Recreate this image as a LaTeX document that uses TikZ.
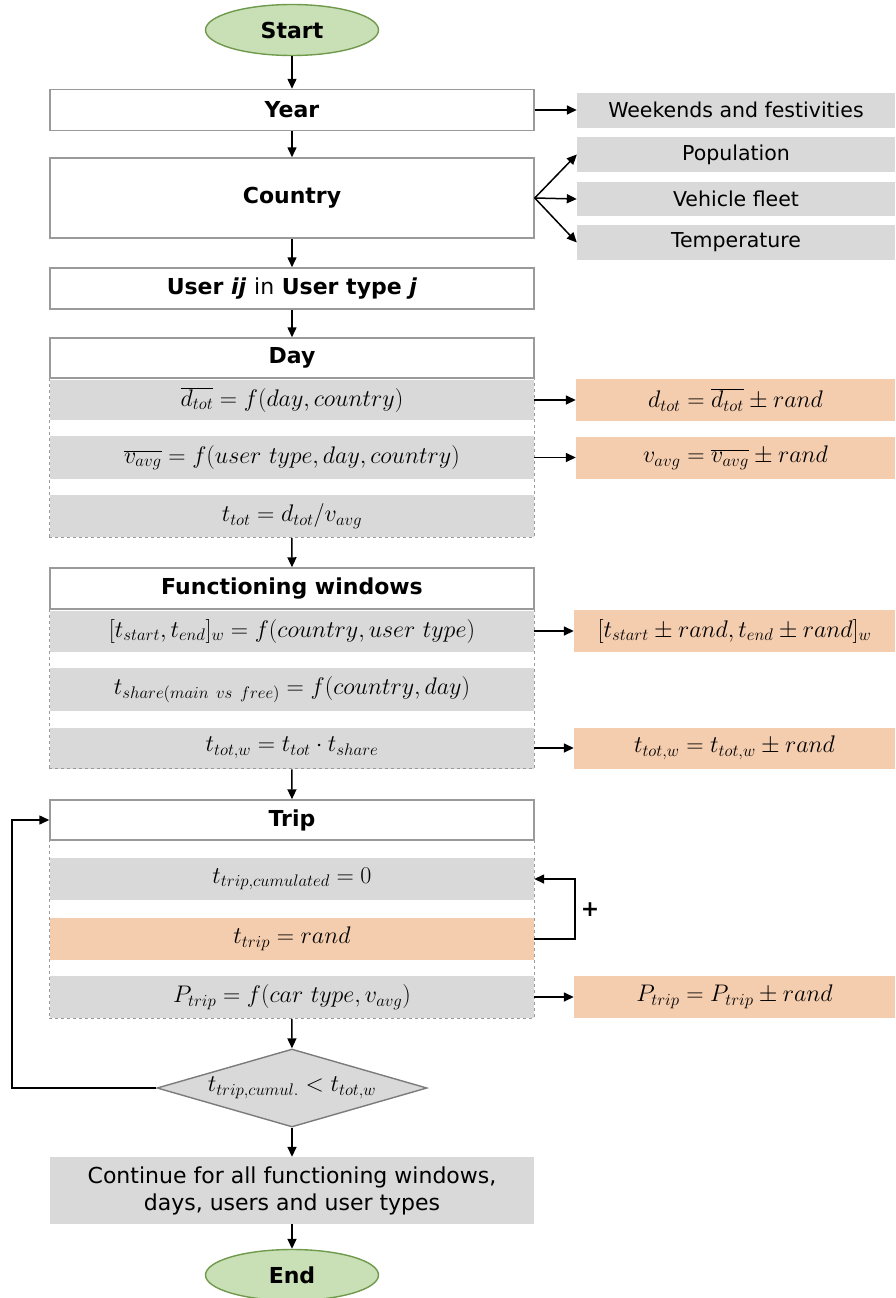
\RequirePackage{fix-cm}
\documentclass[tikz,border=0pt]{standalone}
\usepackage{fontspec}
\setmainfont{DejaVu Sans}
\usetikzlibrary{shapes.geometric,arrows.meta,fit}
\definecolor{rowgray}{HTML}{D9D9D9}
\definecolor{randorange}{HTML}{F4CCAE}
\definecolor{termgreen}{HTML}{C9DFB6}
\definecolor{termline}{HTML}{6F9A4C}
\definecolor{boxline}{HTML}{9A9A9A}

\begin{document}
\begin{tikzpicture}[x=1pt,y=-1pt,font=\fontsize{20.5}{27}\selectfont,
	>={Triangle[length=10pt,width=9pt]},
	term/.style={ellipse,draw=termline,fill=termgreen,line width=1.4pt,minimum width=173pt,minimum height=51pt,inner sep=0pt,font=\fontsize{22}{26}\selectfont\bfseries},
	hdr/.style={draw=boxline,line width=1.5pt,fill=white,minimum width=484pt,inner sep=0pt,font=\fontsize{22}{26}\selectfont\bfseries},
	row/.style={fill=rowgray,minimum width=484pt,inner sep=0pt},
	eq/.style={font=\fontsize{24}{28}\selectfont},
	rnd/.style={fill=randorange,inner sep=0pt,eq},
	side/.style={fill=rowgray,minimum width=318pt,minimum height=35pt,inner sep=0pt},
	grp/.style={draw=boxline,dashed,line width=1.1pt,inner sep=0pt},
	link/.style={->,line width=1.5pt}]
	\useasboundingbox (0,0) rectangle (895,1298);
	% main column
	\node[term] (start) at (292,30) {Start};
	\node[hdr,minimum height=41pt] (year) at (292,110) {Year};
	\node[hdr,minimum height=80pt] (country) at (292,198) {Country};
	\node[hdr,minimum height=41pt] (user) at (292,288.5) {User \textit{ij} \textmd{in} User type \textit{j}};
	% day
	\node[hdr,minimum height=40pt] (day) at (292,358) {Day};
	\node[row,eq,minimum height=40pt] (d1) at (292,400) {$\overline{d_{tot}}=f(day,country)$};
	\node[row,eq,minimum height=43pt] (d2) at (292,457.5) {$\overline{v_{avg}}=f(user\ type,day,country)$};
	\node[row,eq,minimum height=42pt] (d3) at (292,516) {$t_{tot}=d_{tot}/v_{avg}$};
	\node[grp,fit=(day.south west)(d3.south east)] (dayC) {};
	% functioning windows
	\node[hdr,minimum height=41pt] (fw) at (292,588.5) {Functioning windows};
	\node[row,eq,minimum height=41pt] (f1) at (292,631) {$[t_{start},t_{end}]_w=f(country,user\ type)$};
	\node[row,eq,minimum height=43pt] (f2) at (292,689.5) {$t_{share(main\ vs\ free)}=f(country,day)$};
	\node[row,eq,minimum height=41pt] (f3) at (292,748) {$t_{tot,w}=t_{tot}\cdot t_{share}$};
	\node[grp,fit=(fw.south west)(f3.south east)] (fwC) {};
	% trip
	\node[hdr,minimum height=40pt] (trip) at (292,820) {Trip};
	\node[row,eq,minimum height=42pt] (t1) at (292,879) {$t_{trip,cumulated}=0$};
	\node[rnd,minimum width=484pt,minimum height=42pt] (t2) at (292,939) {$t_{trip}=rand$};
	\node[row,eq,minimum height=42pt] (t3) at (292,997) {$P_{trip}=f(car\ type,v_{avg})$};
	\node[grp,fit=(trip.south west)(t3.south east)] (tripC) {};
	\node[diamond,eq,draw=boxline!80!black,fill=rowgray,line width=1.4pt,shape aspect=3.46,minimum width=270pt,minimum height=78pt,inner sep=0pt] (cond) at (292,1088) {$t_{trip,cumul.}<t_{tot,w}$};
	\node[row,minimum height=67pt,align=center,font=\fontsize{22}{27}\selectfont] (cont) at (292,1190.5) {Continue for all functioning windows,\\days, users and user types};
	\node[term] (end) at (292,1275) {End};
	% side boxes
	\node[side] (wk) at (736,110) {Weekends and festivities};
	\node[side] (pop) at (736,154.5) {Population};
	\node[side,minimum height=34pt] (veh) at (736,199) {Vehicle fleet};
	\node[side] (tmp) at (736,242.5) {Temperature};
	\node[rnd,minimum width=319pt,minimum height=42pt] (od) at (735.5,400) {$d_{tot}=\overline{d_{tot}}\pm rand$};
	\node[rnd,minimum width=319pt,minimum height=42pt] (ov) at (735.5,457.5) {$v_{avg}=\overline{v_{avg}}\pm rand$};
	\node[rnd,minimum width=321pt,minimum height=42pt] (ow) at (734.5,631) {$[t_{start}\pm rand,t_{end}\pm rand]_w$};
	\node[rnd,minimum width=321pt,minimum height=41pt] (ot) at (734.5,748) {$t_{tot,w}=t_{tot,w}\pm rand$};
	\node[rnd,minimum width=321pt,minimum height=42pt] (op) at (734.5,997) {$P_{trip}=P_{trip}\pm rand$};
	% connectors
	\draw[link] (start)--(year);
	\draw[link] (year)--(country);
	\draw[link] (country)--(user);
	\draw[link] (user)--(day);
	\draw[link] (dayC)--(fw);
	\draw[link] (fwC)--(trip);
	\draw[link] (tripC)--(cond);
	\draw[link] (cond)--(cont);
	\draw[link] (cont)--(end);
	\draw[link] (year.east)--(wk.west);
	\foreach \s in {pop,veh,tmp}{\draw[link] (country.east)--(\s.west);}
	\draw[link] (d1.east)--(od.west);
	\draw[link] (d2.east)--(ov.west);
	\draw[link] (f1.east)--(ow.west);
	\draw[link] (f3.east)--(ot.west);
	\draw[link] (t3.east)--(op.west);
	\draw[link] (t2.east)--++(41,0) |- (t1.east);
	\node[font=\fontsize{22}{26}\selectfont\bfseries] (plus) at (590,910) {+};
	\coordinate (back) at (12,1088);
	\draw[link] (cond.west)--(back) |- (trip.west);
\end{tikzpicture}
\end{document}
